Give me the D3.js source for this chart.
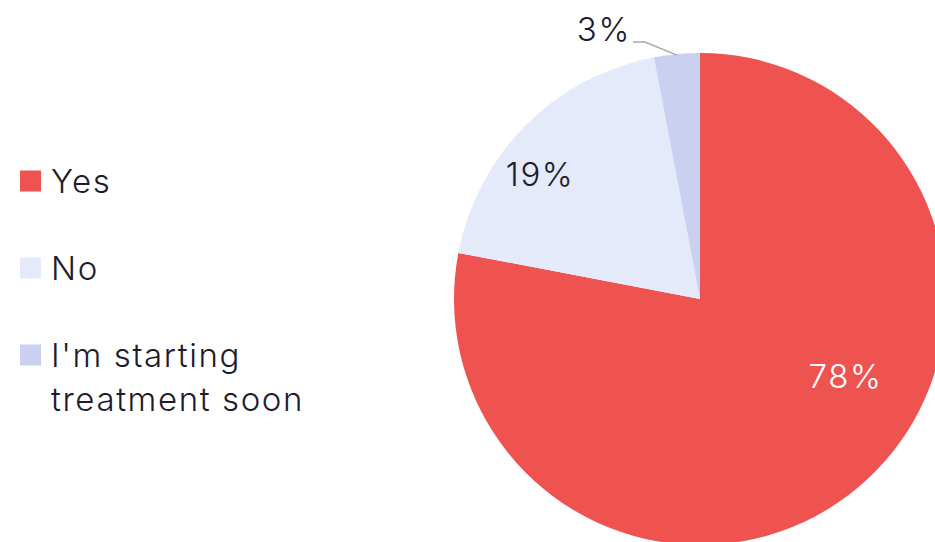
<!DOCTYPE html>
<html>
<head>
<meta charset="utf-8">
<script src="https://cdn.jsdelivr.net/npm/d3@7"></script>
<style>
  html, body { margin: 0; padding: 0; background: #fff; overflow: hidden; }
  svg { display: block; }
  text { font-family: Inter, "Open Sans", sans-serif; font-weight: 300; letter-spacing: 1.6px; }
</style>
</head>
<body>
<svg id="chart" width="935" height="542"></svg>
<script>
const categories = ["Yes", "No", "I'm starting treatment soon"];
const legendLines = [["Yes"], ["No"], ["I'm starting", "treatment soon"]];
const values = [78, 19, 3];
const labels = ["78%", "19%", "3%"];
const colors = ["#EF5350", "#E4EAFA", "#C9D0F0"];

const svg = d3.select("#chart");
const cx = 700, cy = 299, R = 246;
const textColor = "#1d1c2e";

const pie = d3.pie().sort(null).value(d => d)(values);
const arc = d3.arc().innerRadius(0).outerRadius(R);

const g = svg.append("g").attr("transform", `translate(${cx},${cy})`);
g.selectAll("path.slice")
  .data(pie)
  .join("path")
  .attr("class", "slice")
  .attr("d", arc)
  .attr("fill", (d, i) => colors[i]);

// label placement (kept inside visible area)
const labelPlace = [
  { r: 0.67 * R, angle: 118 },
  { r: 0.825 * R, angle: 308 },
];
pie.forEach((d, i) => {
  if (i < 2) {
    const mid = labelPlace[i].angle * Math.PI / 180;
    const r = labelPlace[i].r;
    const x = Math.sin(mid) * r, y = -Math.cos(mid) * r;
    g.append("text")
      .attr("x", x).attr("y", y)
      .attr("text-anchor", "middle")
      .attr("dominant-baseline", "central")
      .attr("font-size", 33)
      .attr("fill", i === 0 ? "#ffffff" : textColor)
      .text(labels[i]);
  } else {
    const mid = (d.startAngle + d.endAngle) / 2;
    const p0 = [Math.sin(mid) * (R - 1), -Math.cos(mid) * (R - 1)];
    const p1 = [p0[0] - 32, p0[1] - 13];
    const p2 = [p1[0] - 12, p1[1]];
    g.append("polyline")
      .attr("points", [p0, p1, p2].map(p => p.join(",")).join(" "))
      .attr("fill", "none")
      .attr("stroke", "#a8a8a8")
      .attr("stroke-width", 1.5);
    g.append("text")
      .attr("x", p2[0] - 2).attr("y", p2[1] - 1)
      .attr("text-anchor", "end")
      .attr("font-size", 33)
      .attr("fill", textColor)
      .text(labels[i]);
  }
});

// legend
const legendY = d3.scalePoint().domain(categories).range([181, 355]);
const lg = svg.append("g");
categories.forEach((c, i) => {
  const y = legendY(c);
  lg.append("rect")
    .attr("x", 20).attr("y", y - 10.5)
    .attr("width", 21).attr("height", 21)
    .attr("fill", colors[i]);
  const t = lg.append("text")
    .attr("x", 51).attr("y", y)
    .attr("dominant-baseline", "central")
    .attr("font-size", 33)
    .attr("fill", textColor);
  legendLines[i].forEach((line, j) => {
    t.append("tspan").attr("x", 51).attr("dy", j === 0 ? 0 : 44).text(line);
  });
});
</script>
</body>
</html>
